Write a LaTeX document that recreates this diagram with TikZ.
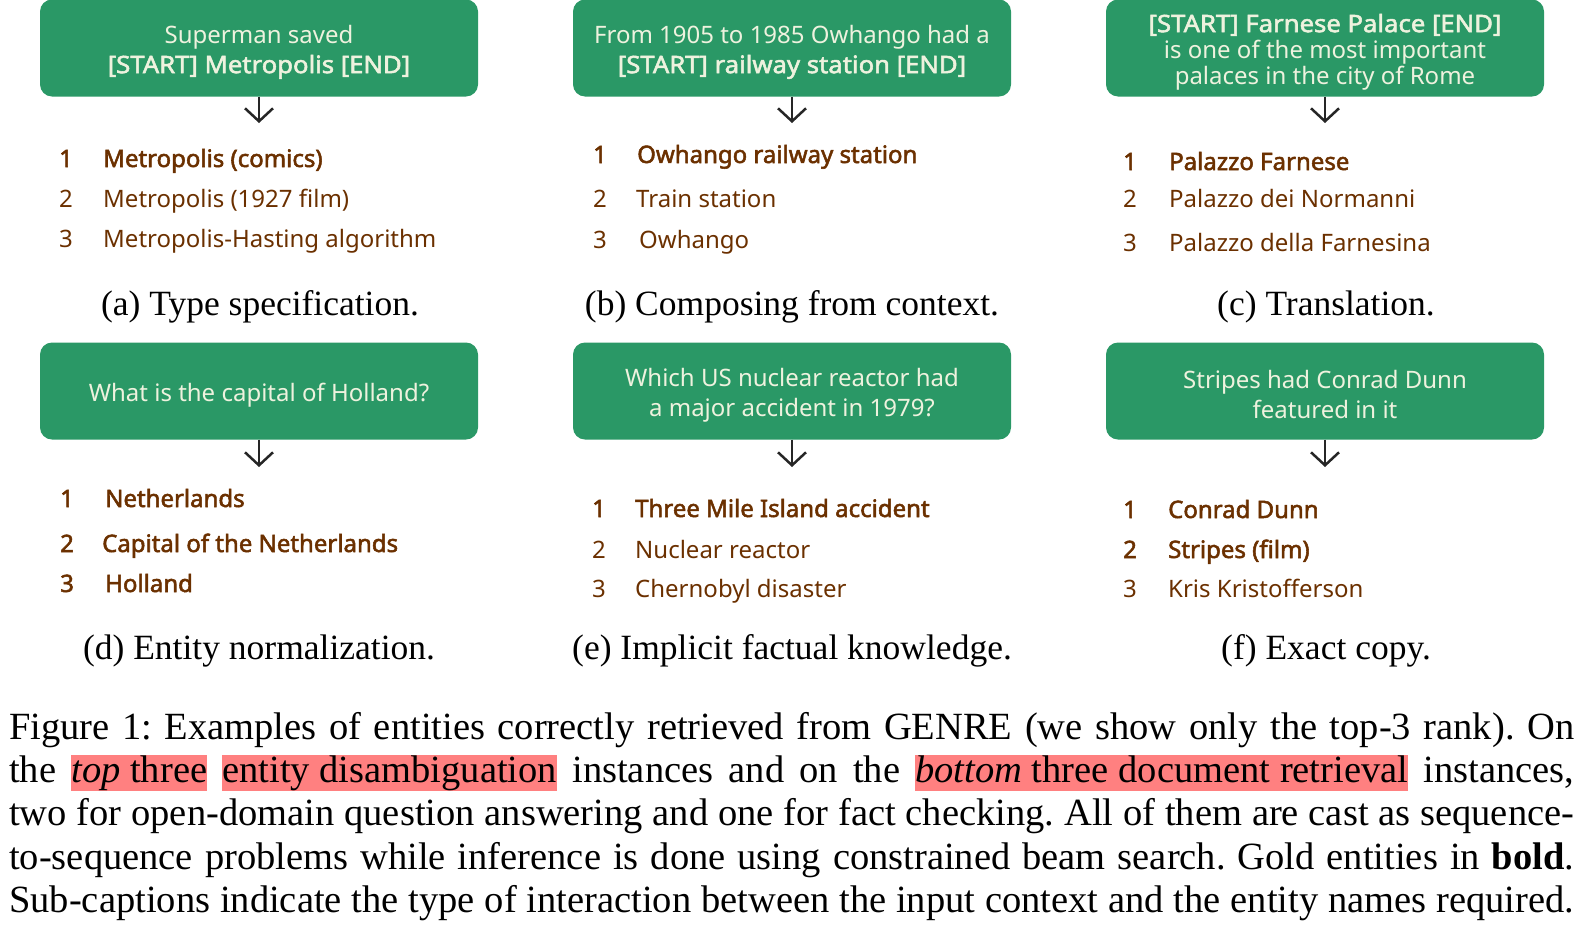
\documentclass[tikz,border=0pt]{standalone}
\usepackage{fontspec}
\setmainfont{Liberation Serif}
\newfontfamily\boxfont[AutoFakeBold=2.2]{Noto Sans}
\usetikzlibrary{arrows.meta}

\definecolor{boxgreen}{HTML}{2A9866}
\definecolor{boxtext}{HTML}{EEF2DE}
\definecolor{rankbrown}{HTML}{6B3000}
\definecolor{hlpink}{HTML}{FF8080}

\newcommand{\hlbox}[1]{{\setlength{\fboxsep}{0pt}\colorbox{hlpink}{\rule[-9pt]{0pt}{36pt}#1}}}
\newcommand{\toppad}{\rule{0pt}{26pt}}
\newcommand{\spanmark}[1]{{\bfseries\addfontfeature{FakeStretch=1.07}#1}}

\tikzset{
  query/.style={draw=none, fill=boxgreen, rounded corners=12pt, minimum width=438pt,
    minimum height=97pt, align=center, text=boxtext, font=\boxfont\fontsize{24}{30}\selectfont},
  rank/.style={anchor=base west, inner sep=0pt, text=rankbrown, font=\boxfont\fontsize{24}{28}\selectfont},
  subcap/.style={anchor=base, inner sep=0pt, font=\fontsize{35.5}{40}\selectfont},
  down/.style={-{Straight Barb[length=13pt, width=28pt, line width=2.5pt]}, line width=2.5pt, draw=black!85}
}

\begin{document}
\begin{tikzpicture}[x=1pt, y=-1pt]
\useasboundingbox (0,0) rectangle (1582,924);

    % Input boxes
    \node[query] (qa) at (259,48) {\toppad Superman saved\\\spanmark{[START] Metropolis [END]}};
    \node[query] (qb) at (792,48) {\toppad From 1905 to 1985 Owhango had a\\\spanmark{[START] railway station [END]}};
    \node[query, font=\boxfont\fontsize{24}{26}\selectfont] (qc) at (1325,48) {\toppad\spanmark{[START] Farnese Palace [END]}\\is one of the most important\\palaces in the city of Rome};
    \node[query] (qd) at (259,391) {\toppad What is the capital of Holland?};
    \node[query] (qe) at (792,391) {\toppad Which US nuclear reactor had\\a major accident in 1979?};
    \node[query] (qf) at (1325,391) {\toppad Stripes had Conrad Dunn\\featured in it};

    % Arrow ends
    \coordinate (ea) at (259,123);
    \coordinate (eb) at (792,123);
    \coordinate (ec) at (1325,123);
    \coordinate (ed) at (259,467);
    \coordinate (ee) at (792,467);
    \coordinate (ef) at (1325,467);

    \draw[down] (qa) -- (ea);
    \draw[down] (qb) -- (eb);
    \draw[down] (qc) -- (ec);
    \draw[down] (qd) -- (ed);
    \draw[down] (qe) -- (ee);
    \draw[down] (qf) -- (ef);

    % (a) ranked entities
    \node[rank] (na1) at (59,167) {\textbf{1}};
    \node[rank] (ta1) at (103,167) {\textbf{Metropolis (comics)}};
    \node[rank] (na2) at (59,207) {2};
    \node[rank] (ta2) at (103,207) {Metropolis (1927 film)};
    \node[rank] (na3) at (59,247) {3};
    \node[rank] (ta3) at (103,247) {Metropolis-Hasting algorithm};

    % (b)
    \node[rank] (nb1) at (593,163) {\textbf{1}};
    \node[rank] (tb1) at (637,163) {\textbf{Owhango railway station}};
    \node[rank] (nb2) at (593,207) {2};
    \node[rank] (tb2) at (636,207) {Train station};
    \node[rank] (nb3) at (593,248) {3};
    \node[rank] (tb3) at (639,248) {Owhango};

    % (c)
    \node[rank] (nc1) at (1123,170) {\textbf{1}};
    \node[rank] (tc1) at (1169,170) {\textbf{Palazzo Farnese}};
    \node[rank] (nc2) at (1123,207) {2};
    \node[rank] (tc2) at (1169,207) {Palazzo dei Normanni};
    \node[rank] (nc3) at (1123,251) {3};
    \node[rank] (tc3) at (1169,251) {Palazzo della Farnesina};

    % (d)
    \node[rank] (nd1) at (60,507) {\textbf{1}};
    \node[rank] (td1) at (105,507) {\textbf{Netherlands}};
    \node[rank] (nd2) at (60,552) {\textbf{2}};
    \node[rank] (td2) at (102,552) {\textbf{Capital of the Netherlands}};
    \node[rank] (nd3) at (60,592) {\textbf{3}};
    \node[rank] (td3) at (105,592) {\textbf{Holland}};

    % (e)
    \node[rank] (ne1) at (592,517) {\textbf{1}};
    \node[rank] (te1) at (635,517) {\textbf{Three Mile Island accident}};
    \node[rank] (ne2) at (592,558) {2};
    \node[rank] (te2) at (635,558) {Nuclear reactor};
    \node[rank] (ne3) at (592,597) {3};
    \node[rank] (te3) at (635,597) {Chernobyl disaster};

    % (f)
    \node[rank] (nf1) at (1123,518) {\textbf{1}};
    \node[rank] (tf1) at (1168,518) {\textbf{Conrad Dunn}};
    \node[rank] (nf2) at (1123,558) {\textbf{2}};
    \node[rank] (tf2) at (1168,558) {\textbf{Stripes (film)}};
    \node[rank] (nf3) at (1123,597) {3};
    \node[rank] (tf3) at (1168,597) {Kris Kristofferson};

    % Sub-captions
    \node[subcap] (ca) at (260,315) {(a) Type specification.};
    \node[subcap] (cb) at (792,315) {(b) Composing from context.};
    \node[subcap] (cc) at (1326,315) {(c) Translation.};
    \node[subcap] (cd) at (259,659) {(d) Entity normalization.};
    \node[subcap] (ce) at (792,659) {(e) Implicit factual knowledge.};
    \node[subcap] (cf) at (1326,659) {(f) Exact copy.};

    % Figure caption
    \node[anchor=base west, inner sep=0pt, text width=1565pt, align=justify,
          font=\fontsize{38.5}{43.4}\selectfont] (fig) at (9,739) {\frenchspacing
      Figure 1: Examples of entities correctly retrieved from GENRE (we show only the top-3 rank). On\linebreak
      the \hlbox{\emph{top} three} \hlbox{entity disambiguation} instances and on the \hlbox{\emph{bottom} three document retrieval} instances,\linebreak
      two for open-domain question answering and one for fact checking. All of them are cast as sequence-\linebreak
      to-sequence problems while inference is done using constrained beam search. Gold entities in \textbf{bold}.\linebreak
      Sub-captions indicate the type of interaction between the input context and the entity names required.\linebreak};

\end{tikzpicture}
\end{document}
